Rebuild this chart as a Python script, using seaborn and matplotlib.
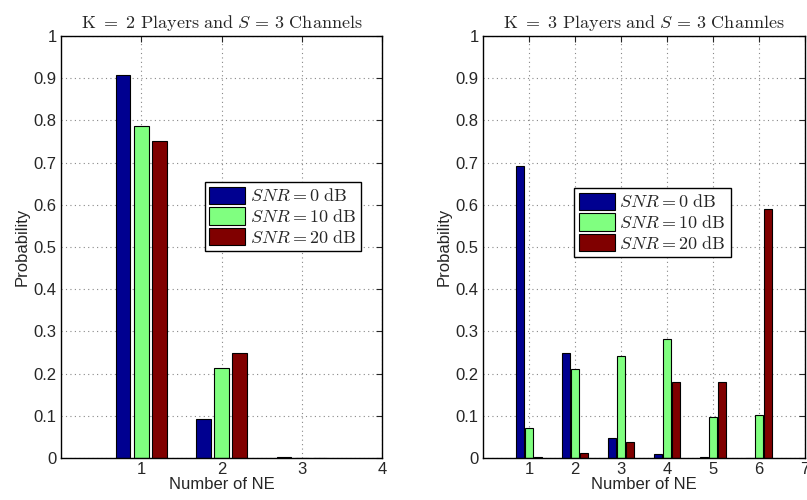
import pandas as pd
import matplotlib
matplotlib.use("Agg")
import matplotlib.pyplot as plt
import seaborn as sns

# values
snr_labels = [r'$SNR = 0\ \mathrm{dB}$', r'$SNR = 10\ \mathrm{dB}$', r'$SNR = 20\ \mathrm{dB}$']
colors = ['#000090', '#80FF80', '#800000']

ne_k2 = [1, 2, 3]
p_k2_snr0 = [0.907, 0.092, 0.003]
p_k2_snr10 = [0.787, 0.214, 0.0]
p_k2_snr20 = [0.751, 0.249, 0.0]

ne_k3 = [1, 2, 3, 4, 5, 6]
p_k3_snr0 = [0.693, 0.248, 0.048, 0.010, 0.002, 0.0]
p_k3_snr10 = [0.070, 0.210, 0.241, 0.281, 0.098, 0.102]
p_k3_snr20 = [0.002, 0.012, 0.038, 0.179, 0.181, 0.590]


def make_df(ne, series):
    rows = []
    for lab, vals in zip(snr_labels, series):
        for n, v in zip(ne, vals):
            rows.append({'ne': n, 'p': v, 'snr': lab})
    return pd.DataFrame(rows)


df2 = make_df(ne_k2, [p_k2_snr0, p_k2_snr10, p_k2_snr20])
df3 = make_df(ne_k3, [p_k3_snr0, p_k3_snr10, p_k3_snr20])

sns.set_style('white')
plt.rcParams['font.family'] = ['Liberation Sans', 'DejaVu Sans']
plt.rcParams['mathtext.fontset'] = 'cm'

fig = plt.figure(figsize=(8.07, 5.0), dpi=100)
ax1 = fig.add_axes([0.0756, 0.084, 0.398, 0.844])
ax2 = fig.add_axes([0.5985, 0.084, 0.399, 0.844])

pal = dict(zip(snr_labels, colors))

sns.barplot(data=df2, x='ne', y='p', hue='snr', hue_order=snr_labels, palette=pal,
            native_scale=True, width=0.675, gap=0.2, edgecolor='black', linewidth=0.8,
            saturation=1, ax=ax1)
sns.barplot(data=df3, x='ne', y='p', hue='snr', hue_order=snr_labels, palette=pal,
            native_scale=True, width=0.59, gap=0.13, edgecolor='black', linewidth=0.8,
            saturation=1, ax=ax2)

titles = [r'$\mathrm{K\ =\ 2\ Players\ and\ }S\,=\,3\mathrm{\ Channels}$',
          r'$\mathrm{K\ =\ 3\ Players\ and\ }S\,=\,3\mathrm{\ Channles}$']
xmaxes = [4, 7]
legend_pos = [(0.447, 0.49), (0.283, 0.476)]

for ax, title, xmax, lp in zip([ax1, ax2], titles, xmaxes, legend_pos):
    ax.set_xlim(0, xmax)
    ax.set_ylim(0, 1)
    ax.set_xticks(range(1, xmax + 1))
    ax.set_yticks([i / 10 for i in range(11)])
    ax.set_yticklabels(['0'] + ['%.1f' % (i / 10) for i in range(1, 10)] + ['1'])
    ax.grid(True, linestyle=(0, (1, 3)), color='#888888', linewidth=0.8)
    ax.set_axisbelow(True)
    ax.tick_params(direction='in', top=True, right=True, labelsize=12, length=4, pad=3)
    for s in ax.spines.values():
        s.set_color('black')
        s.set_linewidth(1.0)
    ax.set_xlabel('Number of NE', fontsize=12, labelpad=0)
    ax.set_ylabel('Probability', fontsize=12, labelpad=3)
    ax.set_title(title, fontsize=13, pad=6)
    h, l = ax.get_legend_handles_labels()
    ax.legend(h, l, loc='lower left', bbox_to_anchor=lp, fontsize=13,
              frameon=True, fancybox=False, edgecolor='black', framealpha=1,
              handlelength=2.0, handleheight=1.1, handletextpad=0.25,
              borderpad=0.25, labelspacing=0.1, borderaxespad=0)

fig.savefig('out.png', dpi=100)
